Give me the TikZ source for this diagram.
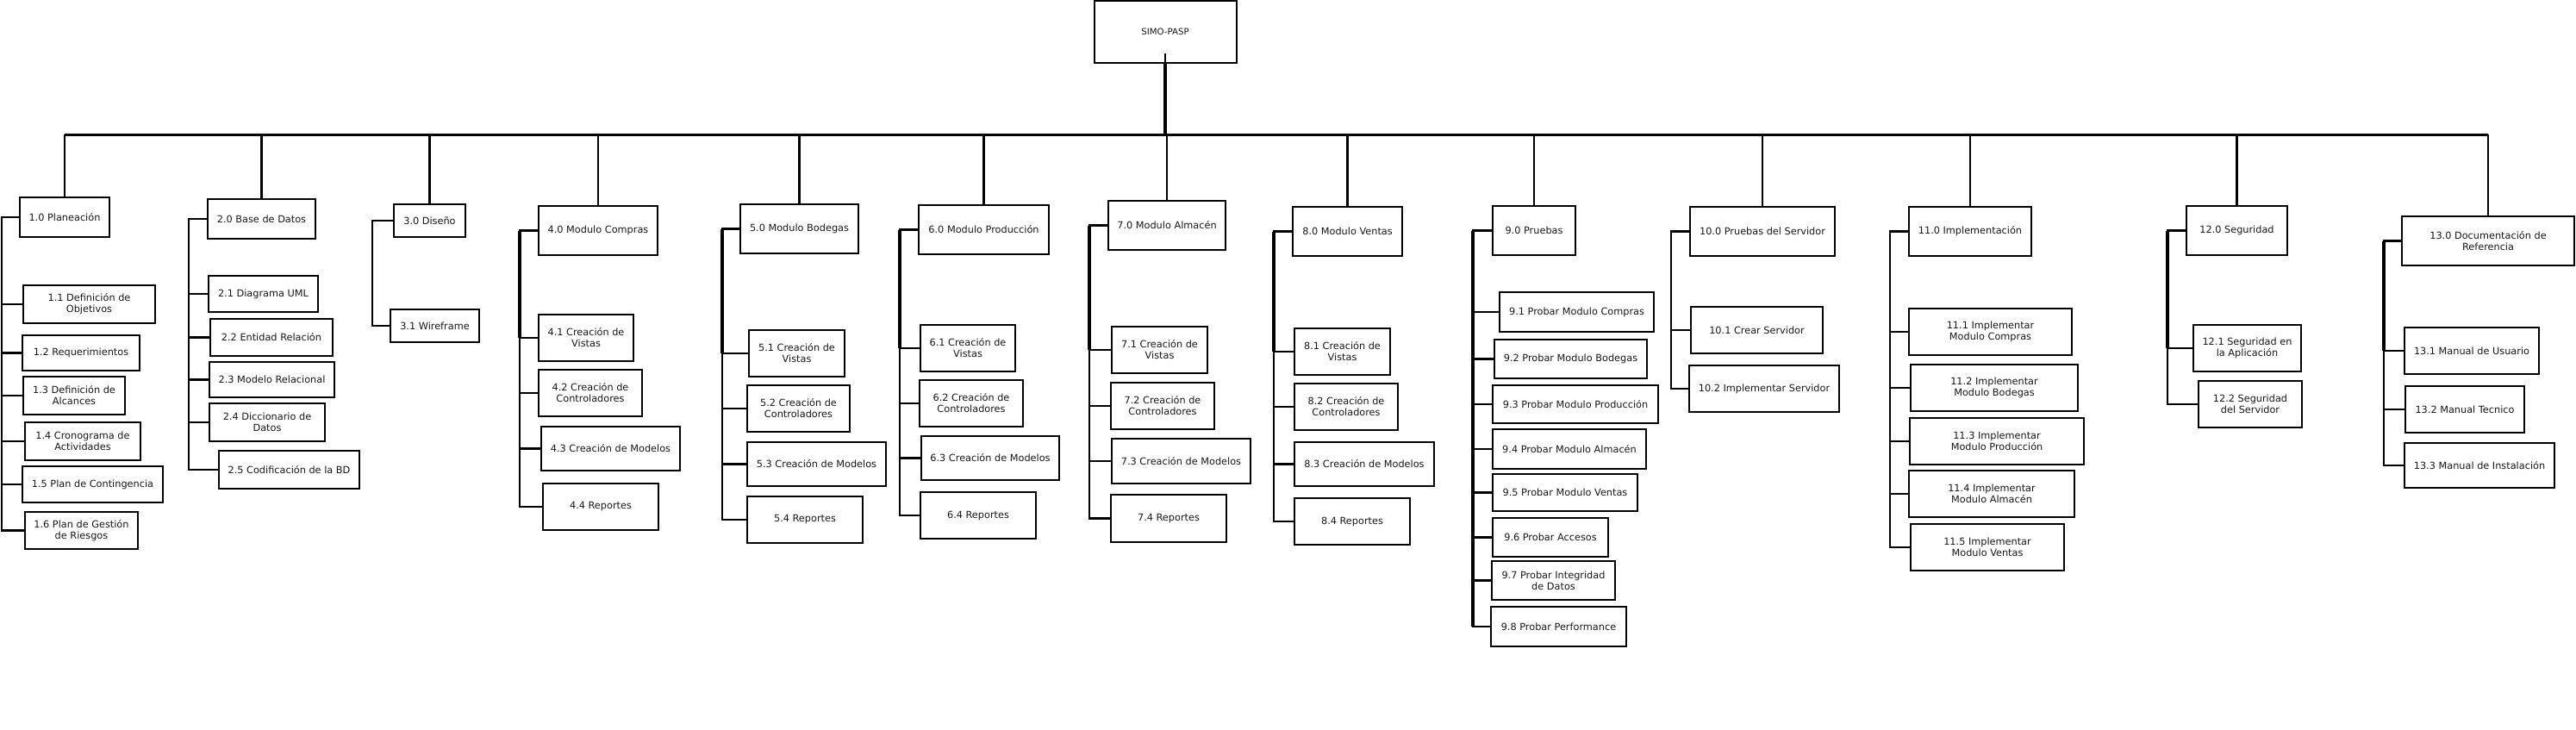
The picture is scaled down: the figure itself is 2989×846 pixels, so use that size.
\documentclass[tikz,border=0pt]{standalone}
\usepackage{fontspec}
\setmainfont{DejaVu Sans}
\begin{document}
\begin{tikzpicture}[x=1pt,y=-1pt,
  box/.style={draw=black,line width=2pt,fill=white,inner sep=0pt,align=center,
    font=\fontsize{11.3}{13}\selectfont,text=black!90},
  conn/.style={draw=black,line width=2.4pt},
  spinetop/.style={draw=black,line width=3.6pt},
  rootconn/.style={draw=black,line width=4pt}]
\newcommand\bx[6]{\node[box,minimum width={#4-#2},minimum height={#5-#3}] (#1) at ({(#2+#4)/2},{(#3+#5)/2}) {#6};}
\newcommand\br[2]{\draw[conn] (#2.west) -- (#2.west -| #1);}
\fill[white] (0,0) rectangle (2989,846);
\useasboundingbox (0,0) rectangle (2989,846);

% root
\node[box,minimum width=165,minimum height=72,font=\fontsize{10.2}{12}\selectfont] (root) at (1352,37) {SIMO-PASP};
\coordinate (barL) at (75,156);
\coordinate (barR) at (2887,156);
\coordinate (rootin) at (1352,62);

% level 1
\bx{p1}{23}{229}{127}{275}{1.0 Planeación}
\bx{p2}{241}{231}{366}{277}{2.0 Base de Datos}
\bx{p3}{457}{237}{540}{275}{3.0 Diseño}
\bx{p4}{625}{239}{763}{296}{4.0 Modulo Compras}
\bx{p5}{859}{237}{996}{294}{5.0 Modulo Bodegas}
\bx{p6}{1066}{238}{1217}{295}{6.0 Modulo Producción}
\bx{p7}{1286}{233}{1422}{290}{7.0 Modulo Almacén}
\bx{p8}{1500}{240}{1627}{297}{8.0 Modulo Ventas}
\bx{p9}{1732}{239}{1828}{296}{9.0 Pruebas}
\bx{p10}{1961}{240}{2129}{297}{10.0 Pruebas del Servidor}
\bx{p11}{2215}{240}{2357}{297}{11.0 Implementación}
\bx{p12}{2537}{239}{2654}{296}{12.0 Seguridad}
\bx{p13}{2787}{251}{2987}{308}{13.0 Documentación de\\Referencia}

% children
\bx{c11}{27}{331}{180}{375}{1.1 Definición de\\Objetivos}
\bx{c12}{26}{389}{162}{430}{1.2 Requerimientos}
\bx{c13}{27}{437}{145}{481}{1.3 Definición de\\Alcances}
\bx{c14}{29}{490}{163}{534}{1.4 Cronograma de\\Actividades}
\bx{c15}{26}{541}{189}{583}{1.5 Plan de Contingencia}
\bx{c16}{29}{594}{160}{637}{1.6 Plan de Gestión\\de Riesgos}

\bx{c21}{242}{320}{369}{362}{2.1 Diagrama UML}
\bx{c22}{244}{370}{386}{413}{2.2 Entidad Relación}
\bx{c23}{243}{420}{388}{461}{2.3 Modelo Relacional}
\bx{c24}{243}{468}{377}{512}{2.4 Diccionario de\\Datos}
\bx{c25}{254}{523}{417}{567}{2.5 Codificación de la BD}

\bx{c31}{453}{359}{556}{397}{3.1 Wireframe}

\bx{c41}{625}{365}{735}{419}{4.1 Creación de\\Vistas}
\bx{c42}{625}{429}{745}{483}{4.2 Creación de\\Controladores}
\bx{c43}{628}{495}{789}{546}{4.3 Creación de Modelos}
\bx{c44}{630}{561}{764}{615}{4.4 Reportes}

\bx{c51}{869}{383}{980}{437}{5.1 Creación de\\Vistas}
\bx{c52}{867}{447}{986}{501}{5.2 Creación de\\Controladores}
\bx{c53}{867}{513}{1028}{564}{5.3 Creación de Modelos}
\bx{c54}{867}{576}{1001}{630}{5.4 Reportes}

\bx{c61}{1068}{377}{1178}{431}{6.1 Creación de\\Vistas}
\bx{c62}{1067}{441}{1187}{495}{6.2 Creación de\\Controladores}
\bx{c63}{1069}{506}{1229}{557}{6.3 Creación de Modelos}
\bx{c64}{1068}{571}{1202}{625}{6.4 Reportes}

\bx{c71}{1290}{379}{1401}{433}{7.1 Creación de\\Vistas}
\bx{c72}{1289}{444}{1409}{498}{7.2 Creación de\\Controladores}
\bx{c73}{1290}{509}{1451}{561}{7.3 Creación de Modelos}
\bx{c74}{1289}{574}{1423}{629}{7.4 Reportes}

\bx{c81}{1502}{381}{1613}{435}{8.1 Creación de\\Vistas}
\bx{c82}{1502}{445}{1622}{499}{8.2 Creación de\\Controladores}
\bx{c83}{1502}{513}{1664}{564}{8.3 Creación de Modelos}
\bx{c84}{1502}{578}{1636}{632}{8.4 Reportes}

\bx{c91}{1740}{339}{1919}{385}{9.1 Probar Modulo Compras}
\bx{c92}{1734}{394}{1911}{439}{9.2 Probar Modulo Bodegas}
\bx{c93}{1732}{447}{1924}{491}{9.3 Probar Modulo Producción}
\bx{c94}{1732}{498}{1910}{544}{9.4 Probar Modulo Almacén}
\bx{c95}{1732}{550}{1900}{593}{9.5 Probar Modulo Ventas}
\bx{c96}{1732}{601}{1866}{646}{9.6 Probar Accesos}
\bx{c97}{1731}{651}{1874}{696}{9.7 Probar Integridad\\de Datos}
\bx{c98}{1730}{704}{1887}{750}{9.8 Probar Performance}

\bx{c101}{1962}{356}{2115}{410}{10.1 Crear Servidor}
\bx{c102}{1960}{424}{2134}{478}{10.2 Implementar Servidor}

\bx{c111}{2215}{358}{2404}{412}{11.1 Implementar\\Modulo Compras}
\bx{c112}{2217}{423}{2411}{477}{11.2 Implementar\\Modulo Bodegas}
\bx{c113}{2216}{485}{2418}{539}{11.3 Implementar\\Modulo Producción}
\bx{c114}{2215}{546}{2407}{600}{11.4 Implementar\\Modulo Almacén}
\bx{c115}{2217}{608}{2395}{662}{11.5 Implementar\\Modulo Ventas}

\bx{c121}{2545}{377}{2670}{431}{12.1 Seguridad en\\la Aplicación}
\bx{c122}{2551}{442}{2671}{496}{12.2 Seguridad\\del Servidor}

\bx{c131}{2790}{380}{2946}{434}{13.1 Manual de Usuario}
\bx{c132}{2791}{448}{2929}{502}{13.2 Manual Tecnico}
\bx{c133}{2790}{514}{2964}{566}{13.3 Manual de Instalación}

% spine x positions
\coordinate (s1) at (2,0);
\coordinate (s2) at (219,0);
\coordinate (s3) at (432,0);
\coordinate (s4) at (603,0);
\coordinate (s5) at (838,0);
\coordinate (s6) at (1044,0);
\coordinate (s7) at (1264,0);
\coordinate (s8) at (1478,0);
\coordinate (s9) at (1709,0);
\coordinate (s10) at (1939,0);
\coordinate (s11) at (2193,0);
\coordinate (s12) at (2515,0);
\coordinate (s13) at (2766,0);

% root connectors
\draw[line width=1.6pt] (rootin) -- (root.south);
\draw[rootconn] (root.south) -- (root.south |- barL);
\draw[line width=3pt] (barL) -- (barR);
\foreach \p in {p1,p2,p3,p4,p5,p6,p7,p8,p9,p10,p11,p12,p13}
  \draw[conn] (\p.north) -- (\p.north |- barL);

% spines
\draw[conn] (p1.west) -| (s1 |- c16.west) -- (c16.west);
\br{s1}{c11}\br{s1}{c12}\br{s1}{c13}\br{s1}{c14}\br{s1}{c15}

\draw[conn] (p2.west) -| (s2 |- c25.west) -- (c25.west);
\br{s2}{c21}\br{s2}{c22}\br{s2}{c23}\br{s2}{c24}

\draw[conn] (p3.west) -| (s3 |- c31.west) -- (c31.west);

\draw[conn] (p4.west) -| (s4 |- c44.west) -- (c44.west);
\draw[spinetop] (s4 |- p4.west) -- (s4 |- c41.west);
\br{s4}{c41}\br{s4}{c42}\br{s4}{c43}

\draw[conn] (p5.west) -| (s5 |- c54.west) -- (c54.west);
\draw[spinetop] (s5 |- p5.west) -- (s5 |- c51.west);
\br{s5}{c51}\br{s5}{c52}\br{s5}{c53}

\draw[conn] (p6.west) -| (s6 |- c64.west) -- (c64.west);
\draw[spinetop] (s6 |- p6.west) -- (s6 |- c61.west);
\br{s6}{c61}\br{s6}{c62}\br{s6}{c63}

\draw[conn] (p7.west) -| (s7 |- c74.west) -- (c74.west);
\draw[spinetop] (s7 |- p7.west) -- (s7 |- c71.west);
\br{s7}{c71}\br{s7}{c72}\br{s7}{c73}

\draw[conn] (p8.west) -| (s8 |- c84.west) -- (c84.west);
\draw[spinetop] (s8 |- p8.west) -- (s8 |- c81.west);
\br{s8}{c81}\br{s8}{c82}\br{s8}{c83}

\draw[conn] (p9.west) -| (s9 |- c98.west) -- (c98.west);
\draw[spinetop] (s9 |- p9.west) -- (s9 |- c98.west);
\br{s9}{c91}\br{s9}{c92}\br{s9}{c93}\br{s9}{c94}\br{s9}{c95}\br{s9}{c96}\br{s9}{c97}

\draw[conn] (p10.west) -| (s10 |- c102.west) -- (c102.west);
\br{s10}{c101}

\draw[conn] (p11.west) -| (s11 |- c115.west) -- (c115.west);
\br{s11}{c111}\br{s11}{c112}\br{s11}{c113}\br{s11}{c114}

\draw[conn] (p12.west) -| (s12 |- c122.west) -- (c122.west);
\draw[spinetop] (s12 |- p12.west) -- (s12 |- c121.west);
\br{s12}{c121}

\draw[conn] (p13.west) -| (s13 |- c133.west) -- (c133.west);
\draw[spinetop] (s13 |- p13.west) -- (s13 |- c131.west);
\br{s13}{c131}\br{s13}{c132}
\end{tikzpicture}
\end{document}
